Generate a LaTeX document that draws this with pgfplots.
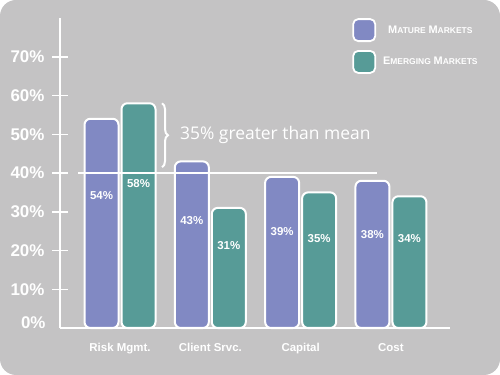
\documentclass[border=0pt]{standalone}
\usepackage{fontspec}
\setmainfont{Liberation Sans}
\newfontfamily\annfont{Open Sans}
\usepackage{pgfplots}
\pgfplotsset{compat=1.18}
\usetikzlibrary{decorations.pathreplacing}
\definecolor{bggray}{HTML}{C4C3C4}
\definecolor{mature}{HTML}{8189C3}
\definecolor{emerging}{HTML}{579B97}
\newcommand{\smc}[2]{{\fontsize{11}{13}\selectfont #1}{\fontsize{8.5}{10}\selectfont #2}}
\newcommand{\yl}[1]{{\fontsize{17}{19}\selectfont\bfseries #1\%}}
\begin{document}
\begin{tikzpicture}
\fill[bggray, rounded corners=16bp] (0,0) rectangle (500bp,375bp);
\begin{axis}[
  at={(60bp,47bp)}, anchor=south west,
  scale only axis, width=390bp, height=310bp,
  xmin=-0.6645, xmax=3.654, ymin=0, ymax=80,
  clip=false,
  axis lines=left, axis line style={white, line width=1.5bp, -},
  ybar, bar width=34bp,
  xtick={0,1,2,3}, xticklabels={Risk Mgmt., Client Srvc., Capital, Cost},
  x tick style={draw=none},
  ytick={10,20,...,70}, yticklabels={\yl{10},\yl{20},\yl{30},\yl{40},\yl{50},\yl{60},\yl{70}},
  extra y ticks={0}, extra y tick labels={\yl{0}},
  extra y tick style={major tick length=0pt, yticklabel style={yshift=5bp, xshift=-7bp}},
  y tick style={white, line width=1.5bp},
  tick align=center, major tick length=16bp,
  yticklabel style={text=white, anchor=east, xshift=-4bp},
  xticklabel style={font=\fontsize{11.5}{13}\selectfont\bfseries, text=white, yshift=-4bp},
  legend style={at={(0.749,1.0)}, anchor=north west, draw=none, fill=none,
    font=\bfseries, text=white, row sep=8bp, inner sep=0pt,
    nodes={inner sep=0pt}},
  legend image code/.code={\draw[#1, rounded corners=5bp, line width=1.8bp, draw=white] (0bp,-11bp) rectangle (22bp,11bp);},
]
\addplot[fill=mature, draw=white, line width=2bp, rounded corners=6bp, bar shift=-18.5bp]
  coordinates {(0,54) (1,43) (2,39) (3,38)};
\addplot[fill=emerging, draw=white, line width=2bp, rounded corners=6bp, bar shift=18.5bp]
  coordinates {(0,58) (1,31) (2,35) (3,34)};
\legend{\hspace{7bp}\smc{M}{ATURE} \smc{M}{ARKETS}, \hspace{7bp}\smc{E}{MERGING} \smc{M}{ARKETS}}
\draw[white, line width=1.5bp] (axis cs:-0.465,40) -- (axis cs:2.846,40);
\draw[white, line width=2bp, decorate, decoration={brace, amplitude=6bp}] (axis cs:0.465,58) -- (axis cs:0.465,41.5);
\node[anchor=west, inner sep=0pt, font=\annfont\fontsize{17.5}{19}\selectfont, text=white] at (axis cs:0.664,49.8) {35\% greater than mean};
\begin{scope}[every node/.style={font=\fontsize{11.5}{13}\selectfont\bfseries, text=white}]
\node at (axis cs:-0.205,34.3) {54\%};
\node at (axis cs:0.205,37.4) {58\%};
\node at (axis cs:0.795,27.6) {43\%};
\node at (axis cs:1.205,21.2) {31\%};
\node at (axis cs:1.795,25.0) {39\%};
\node at (axis cs:2.205,23.2) {35\%};
\node at (axis cs:2.795,24.0) {38\%};
\node at (axis cs:3.205,23.2) {34\%};
\end{scope}
\end{axis}
\end{tikzpicture}
\end{document}
